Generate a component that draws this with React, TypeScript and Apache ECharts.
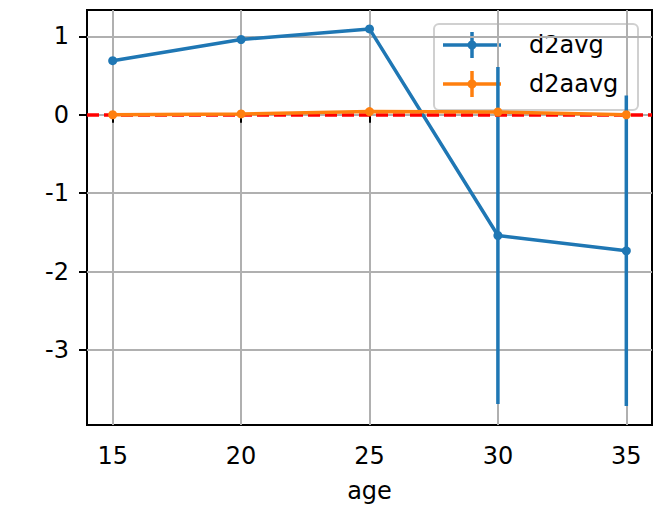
import React, { useEffect, useRef } from "react";
import * as echarts from "echarts";

const ages = [15, 20, 25, 30, 35];
const d2avg = [0.69, 0.96, 1.095, -1.54, -1.735];
const d2avgErr = [0.0, 0.0, 0.0, 2.15, 1.98];
const d2aavg = [0.0, 0.01, 0.04, 0.035, 0.0];
const d2aavgErr = [0.03, 0.03, 0.04, 0.04, 0.03];
const xTicks = [15, 20, 25, 30, 35];
const yTicks = [-3, -2, -1, 0, 1];
const seriesNames = ["d2avg", "d2aavg"];

const BLUE = "#1f77b4";
const ORANGE = "#ff7f0e";
const FONT = "DejaVu Sans";

function errData(vals: number[], errs: number[]) {
  return ages.map((a, i) => [a, vals[i] - errs[i], vals[i] + errs[i]]);
}

function errSeries(vals: number[], errs: number[], color: string, z: number) {
  return {
    type: "custom",
    z,
    data: errData(vals, errs),
    encode: { x: 0, y: [1, 2] },
    renderItem: (params: any, api: any) => {
      const p1 = api.coord([api.value(0), api.value(1)]);
      const p2 = api.coord([api.value(0), api.value(2)]);
      return {
        type: "line",
        shape: { x1: p1[0], y1: p1[1], x2: p2[0], y2: p2[1] },
        style: { stroke: color, lineWidth: 3.5 },
      };
    },
    silent: true,
  };
}

function legendItem(y: number, color: string, label: string) {
  return [
    { type: "line", shape: { x1: 443, y1: y, x2: 501, y2: y }, style: { stroke: color, lineWidth: 3.5 } },
    { type: "line", shape: { x1: 472, y1: y - 13, x2: 472, y2: y + 13 }, style: { stroke: color, lineWidth: 3.5 } },
    { type: "circle", shape: { cx: 472, cy: y, r: 4.5 }, style: { fill: color } },
    {
      type: "text",
      x: 529,
      y,
      style: { text: label, fill: "#000", font: `24px "${FONT}"`, verticalAlign: "middle", align: "left" },
    },
  ];
}

export default function App() {
  const ref = useRef<HTMLDivElement>(null);
  useEffect(() => {
    if (!ref.current) return;
    const chart = echarts.init(ref.current, undefined, { renderer: "svg" });
    const axisCommon = {
      type: "value",
      axisLine: { show: false },
      axisTick: { show: true, length: 8, lineStyle: { color: "#000", width: 2 } },
      splitLine: { show: true, lineStyle: { color: "#b0b0b0", width: 2 } },
    };
    chart.setOption({
      animation: false,
      grid: {
        left: 87,
        right: 1,
        top: 10,
        bottom: 82,
        show: true,
        borderColor: "#000",
        borderWidth: 2,
        backgroundColor: "transparent",
      },
      xAxis: {
        ...axisCommon,
        min: 14,
        max: 36,
        name: "age",
        nameLocation: "middle",
        nameGap: 54,
        nameTextStyle: { fontFamily: FONT, fontSize: 24, color: "#000" },
        axisTick: { ...axisCommon.axisTick, customValues: xTicks },
        axisLabel: {
          customValues: xTicks,
          margin: 19,
          fontFamily: FONT,
          fontSize: 24,
          color: "#000",
          formatter: (v: number) => String(v),
        },
      },
      yAxis: {
        ...axisCommon,
        min: -3.957,
        max: 1.336,
        axisTick: { ...axisCommon.axisTick, customValues: yTicks },
        axisLabel: {
          customValues: yTicks,
          margin: 18,
          fontFamily: FONT,
          fontSize: 24,
          color: "#000",
          formatter: (v: number) => String(v),
        },
      },
      series: [
        errSeries(d2avg, d2avgErr, BLUE, 2),
        {
          type: "line",
          name: seriesNames[0],
          z: 3,
          data: ages.map((a, i) => [a, d2avg[i]]),
          symbol: "circle",
          symbolSize: 9,
          itemStyle: { color: BLUE },
          lineStyle: { color: BLUE, width: 3.5 },
        },
        {
          type: "line",
          z: 4,
          data: [],
          markLine: {
            silent: true,
            symbol: "none",
            label: { show: false },
            lineStyle: { color: "#ff0000", width: 3.5, type: [12, 5] },
            data: [{ yAxis: 0 }],
          },
        },
        errSeries(d2aavg, d2aavgErr, ORANGE, 5),
        {
          type: "line",
          name: seriesNames[1],
          z: 6,
          data: ages.map((a, i) => [a, d2aavg[i]]),
          symbol: "circle",
          symbolSize: 9,
          itemStyle: { color: ORANGE },
          lineStyle: { color: ORANGE, width: 3.5 },
        },
      ],
      graphic: [
        {
          type: "group",
          z: 100,
          children: [
            {
              type: "rect",
              shape: { x: 434, y: 24, width: 204, height: 86, r: 5 },
              style: { fill: "rgba(255,255,255,0.8)", stroke: "#d0d0d0", lineWidth: 2 },
            },
            ...legendItem(45, BLUE, seriesNames[0]),
            ...legendItem(84, ORANGE, seriesNames[1]),
          ],
        },
      ],
    });
    return () => chart.dispose();
  }, []);
  return (
    <div
      ref={ref}
      style={{ position: "absolute", left: 0, top: 0, width: 653, height: 508 }}
    />
  );
}
